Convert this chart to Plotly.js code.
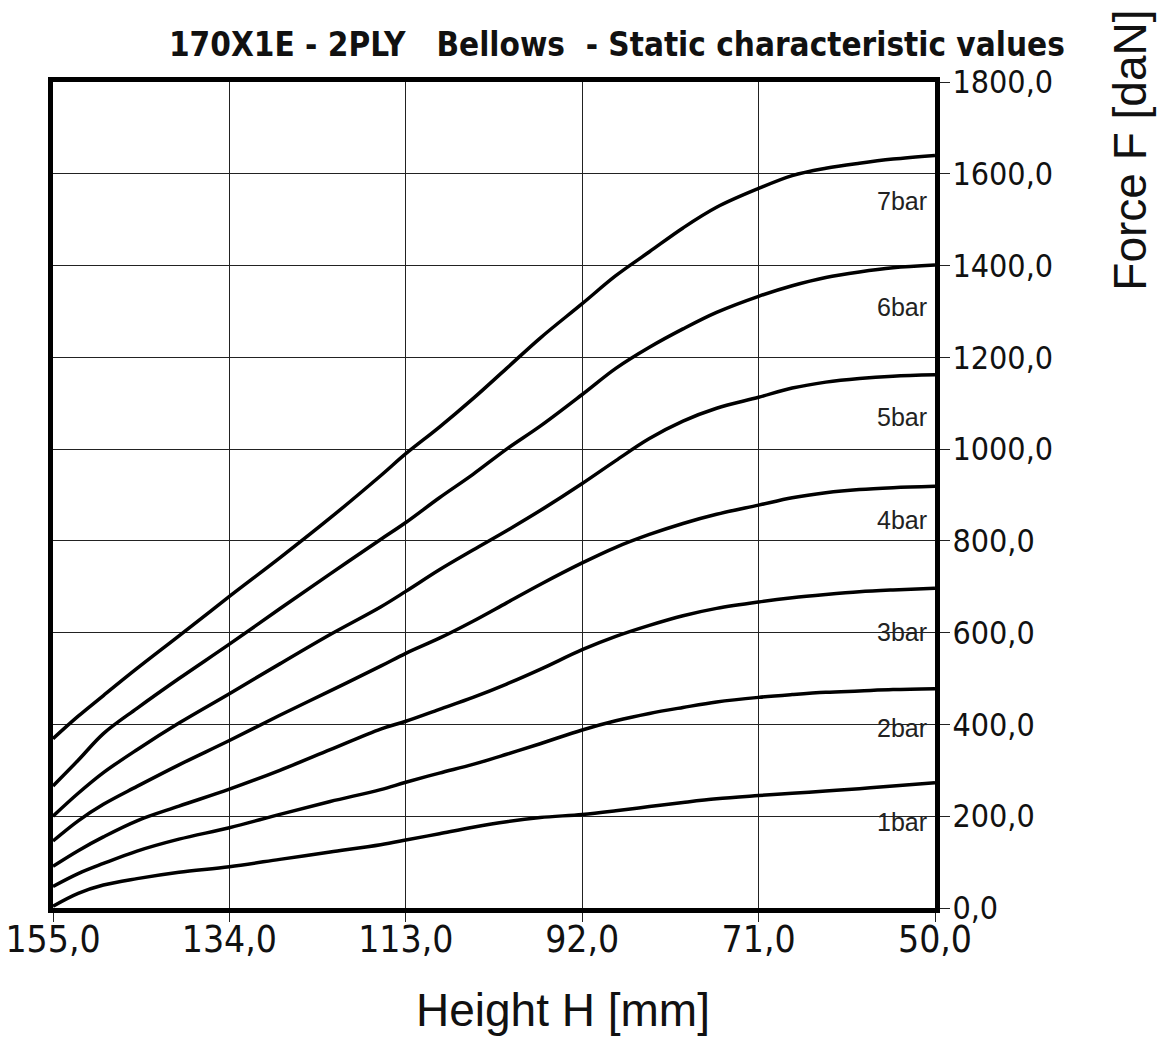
<!DOCTYPE html>
<html>
<head>
<meta charset="utf-8">
<script src="https://cdn.plot.ly/plotly-3.0.1.min.js"></script>
<style>html,body{margin:0;padding:0;background:#fff;}#chart{width:1164px;height:1042px;}</style>
</head>
<body>
<div id="chart"></div>
<script>
// Height H [mm] sample positions
const heights = [155, 152, 149, 145, 140, 134, 128, 122, 116, 113, 109, 105, 101, 97, 92, 88, 84, 80, 76, 71, 67, 63, 59, 55, 50];
// Force F [daN] per pressure
const f7bar = [369, 418, 463, 522, 593, 679, 763, 850, 942, 990, 1048, 1110, 1176, 1242, 1317, 1378, 1430, 1482, 1527, 1568, 1596, 1612, 1623, 1632, 1640];
const f6bar = [266, 322, 380, 435, 500, 575, 652, 728, 803, 840, 894, 945, 1000, 1050, 1119, 1176, 1222, 1262, 1298, 1333, 1356, 1374, 1386, 1395, 1401];
const f5bar = [200, 250, 295, 345, 403, 467, 532, 596, 656, 690, 737, 780, 822, 866, 925, 975, 1023, 1061, 1089, 1113, 1133, 1146, 1154, 1159, 1162];
const f4bar = [146, 190, 226, 265, 312, 365, 420, 473, 527, 555, 588, 625, 665, 705, 752, 786, 814, 838, 858, 878, 894, 905, 912, 916, 919];
const f3bar = [91, 125, 155, 190, 222, 259, 300, 345, 390, 407, 433, 459, 488, 520, 563, 592, 616, 637, 653, 667, 676, 683, 689, 693, 697];
const f2bar = [47, 75, 97, 124, 150, 175, 204, 232, 258, 274, 294, 313, 335, 358, 388, 408, 424, 437, 449, 459, 465, 470, 473, 476, 478];
const f1bar = [4, 32, 50, 64, 78, 90, 106, 122, 138, 148, 162, 176, 188, 197, 204, 212, 221, 230, 238, 245, 250, 255, 260, 266, 273];

const seriesNames = ["7bar", "6bar", "5bar", "4bar", "3bar", "2bar", "1bar"];
const seriesValues = [f7bar, f6bar, f5bar, f4bar, f3bar, f2bar, f1bar];
const labelY = [1541, 1310, 1070, 845, 601, 392, 187];

const xTickVals = [155, 134, 113, 92, 71, 50];
const xTickText = ["155,0", "134,0", "113,0", "92,0", "71,0", "50,0"];
const yTickVals = [0, 200, 400, 600, 800, 1000, 1200, 1400, 1600, 1800];
const yTickText = ["0,0", "200,0", "400,0", "600,0", "800,0", "1000,0", "1200,0", "1400,0", "1600,0", "1800,0"];

const traces = seriesValues.map((vals, i) => ({
  x: heights, y: vals, name: seriesNames[i], type: 'scatter', mode: 'lines',
  line: {color: '#000', width: 3.5, shape: 'spline', smoothing: 1},
  hoverinfo: 'x+y+name'
}));

const annotations = seriesNames.map((n, i) => ({
  x: 50, y: labelY[i], xref: 'x', yref: 'y', text: n, showarrow: false,
  xanchor: 'right', yanchor: 'middle', xshift: -6,
  font: {family: 'Liberation Sans, Arial, sans-serif', size: 25, color: '#222'}
}));
annotations.push({
  xref: 'paper', yref: 'paper', x: 1.221, y: 0.918, text: 'Force F [daN]', showarrow: false,
  textangle: -90, xanchor: 'center', yanchor: 'middle',
  font: {family: 'Liberation Sans, Arial, sans-serif', size: 46, color: '#111'}
});
annotations.push({
  xref: 'paper', yref: 'paper', x: 0.578, y: -0.1235, text: 'Height H [mm]', showarrow: false,
  xanchor: 'center', yanchor: 'middle',
  font: {family: 'Liberation Sans, Arial, sans-serif', size: 46, color: '#111'}
});

const tickFont = {family: 'Liberation Sans Narrow, Arial Narrow, DejaVu Sans Condensed, sans-serif', color: '#111'};

const layout = {
  width: 1164, height: 1042,
  margin: {l: 53, r: 229, t: 82, b: 134, pad: 0},
  paper_bgcolor: '#fff', plot_bgcolor: '#fff',
  showlegend: false,
  title: {
    text: '<b>170X1E - 2PLY\u00a0\u00a0\u00a0Bellows\u00a0\u00a0- Static characteristic values</b>',
    x: 0.530, xanchor: 'center', xref: 'container',
    y: 1 - 44 / 1042, yanchor: 'middle', yref: 'container',
    font: {family: 'Liberation Sans Narrow, Arial Narrow, DejaVu Sans Condensed, sans-serif', size: 33, color: '#111'}
  },
  xaxis: {
    range: [155, 50], tickmode: 'array', tickvals: xTickVals, ticktext: xTickText,
    showgrid: true, gridcolor: '#222', gridwidth: 1.2, zeroline: false,
    showline: true, linecolor: '#000', linewidth: 5, mirror: true,
    ticks: 'outside', ticklen: 9, tickwidth: 1, tickcolor: '#222',
    ticklabelstandoff: -14,
    tickfont: Object.assign({size: 37}, tickFont)
  },
  yaxis: {
    side: 'right', range: [0, 1800], tickmode: 'array', tickvals: yTickVals, ticktext: yTickText,
    showgrid: true, gridcolor: '#222', gridwidth: 1.2, zeroline: false,
    showline: true, linecolor: '#000', linewidth: 5, mirror: true,
    ticks: 'outside', ticklen: 10, tickwidth: 1, tickcolor: '#222',
    ticklabelstandoff: -4,
    tickfont: Object.assign({size: 32}, tickFont)
  },
  annotations: annotations
};

Plotly.newPlot('chart', traces, layout, {displayModeBar: false, staticPlot: true});
</script>
</body>
</html>
